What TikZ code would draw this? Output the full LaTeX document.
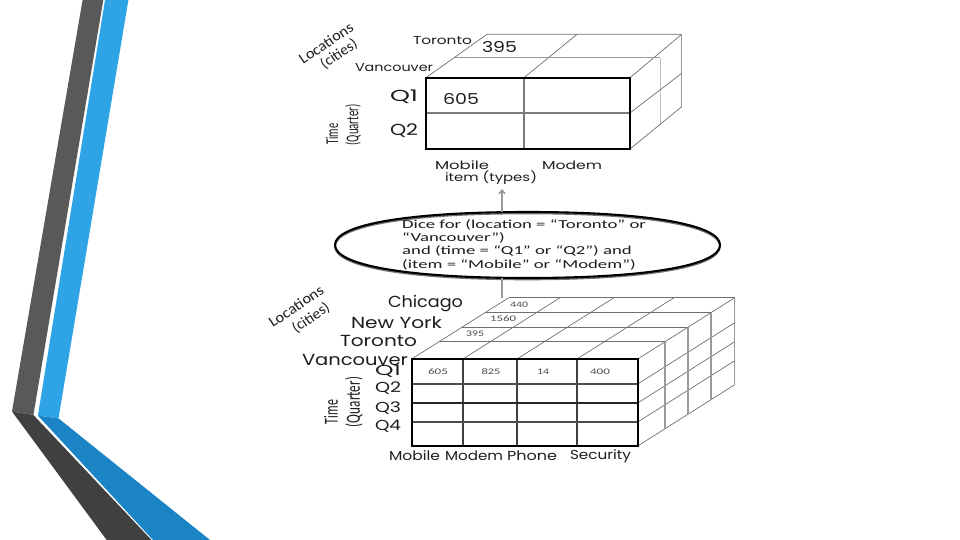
\documentclass[tikz,border=0pt]{standalone}
\usepackage{graphicx}
\usepackage{fontspec}
\setmainfont{Carlito}
\newfontfamily\geo{Poppins}
\usetikzlibrary{shapes.geometric,arrows.meta}
\newcommand\fitw[2]{\resizebox{#1}{\height}{#2}}
\newcommand\fullellipse[4]{% center x, center y, a, b
  (#1+#3,#2) .. controls (#1+#3,#2-0.62*#4) and (#1+0.62*#3,#2-#4) .. (#1,#2-#4)
  .. controls (#1-0.62*#3,#2-#4) and (#1-#3,#2-0.62*#4) .. (#1-#3,#2)
  .. controls (#1-#3,#2+0.62*#4) and (#1-0.62*#3,#2+#4) .. (#1,#2+#4)
  .. controls (#1+0.62*#3,#2+#4) and (#1+#3,#2+0.62*#4) .. (#1+#3,#2) -- cycle}
\definecolor{dkA}{HTML}{595959}
\definecolor{dkB}{HTML}{404040}
\definecolor{blA}{HTML}{2EA3E6}
\definecolor{blB}{HTML}{1A84C4}
\definecolor{gridg}{HTML}{7A7A7A}
\definecolor{diagg}{HTML}{707070}
\definecolor{sideg}{HTML}{9A9A9A}
\definecolor{paleg}{HTML}{B8C2CA}
\definecolor{txt}{HTML}{1E1E1E}
\begin{document}
\begin{tikzpicture}[x=1pt,y=-1pt,
  front/.style={line width=2pt,black},
  inner/.style={line width=1.1pt,gridg},
  edge/.style={line width=0.7pt,diagg},
  side/.style={line width=1.5pt,sideg},
  lab/.style={text=txt,inner sep=0pt},
  conn/.style={line width=1.6pt,sideg},
]
\useasboundingbox (0,0) rectangle (960,540);
\fill[white] (0,0) rectangle (960,540);

% ---------- left decoration ----------
\fill[dkA] (82.6,0) -- (103.3,0) -- (33.4,415) -- (12,411.5) -- cycle;
\fill[blA] (105,0) -- (128.4,0) -- (58.5,418.4) -- (37.9,415.6) -- cycle;
\fill[dkB] (12,411.5) -- (33.4,415) -- (151.5,540) -- (106.7,540) -- cycle;
\fill[blB] (37.9,415.6) -- (58.5,418.4) -- (210,540) -- (153,540) -- cycle;

% ---------- top cube ----------
\draw[edge] (426,77.7) -- (487,34.3) -- (681.7,34.3);
\draw[edge] (524,77.7) -- (577,34.3);
\draw[edge] (630,77.7) -- (681.7,34.3);
\draw[edge,sideg] (455,57.7) -- (660,57.7);
\draw[side,line width=1pt] (681.7,34.3) -- (681.7,106.7);
\draw[line width=1pt,paleg] (660,57.7) -- (660,125);
\draw[edge] (630,113) -- (681.7,73.3);
\draw[edge] (630,149) -- (681.7,106.7);
\draw[inner] (524,77.7) -- (524,149);
\draw[inner] (426,113) -- (630,113);
\draw[front] (426,77.7) rectangle (630,149);

% top cube labels
\node[lab,font=\geo\fontsize{11.5}{13}\selectfont] (tTor) at (442.5,40.7) {\fitw{59pt}{Toronto}};
\node[lab,font=\geo\fontsize{11.5}{13}\selectfont] (tVan) at (394,68) {\fitw{78pt}{Vancouver}};
\node[lab,font=\geo\fontsize{15}{17}\selectfont] (t395) at (499.5,47) {\fitw{35pt}{395}};
\node[lab,font=\geo\fontsize{15}{17}\selectfont] (t605) at (461,99) {\fitw{36pt}{605}};
\node[lab,font=\geo\fontsize{16}{18}\selectfont] (tQ1) at (404,97) {\fitw{28pt}{Q1}};
\node[lab,font=\geo\fontsize{16}{18}\selectfont] (tQ2) at (404,131) {\fitw{28pt}{Q2}};
\node[lab,font=\geo\fontsize{11.5}{13}\selectfont] (tMob) at (462,165) {\fitw{54pt}{Mobile}};
\node[lab,font=\geo\fontsize{11.5}{13}\selectfont] (tMod) at (572,165) {\fitw{60pt}{Modem}};
\node[lab,font=\geo\fontsize{11.5}{13}\selectfont] (tItem) at (491,178) {\fitw{92pt}{item (types)}};
\node[lab,font=\fontsize{15}{17}\selectfont,rotate=34] (tLoc) at (326,43) {\fitw{62pt}{Locations}};
\node[lab,font=\fontsize{15}{17}\selectfont,rotate=34] (tCit) at (339,54) {\fitw{41pt}{(cities)}};
\node[lab,font=\fontsize{18}{20}\selectfont,rotate=90] (tTime) at (332,134) {\fitw{21pt}{Time}};
\node[lab,font=\fontsize{18}{20}\selectfont,rotate=90] (tQua) at (353,125) {\fitw{41pt}{(Quarter)}};

% ---------- dice ellipse ----------
\coordinate (tc) at (502,189);
\node[ellipse,draw=none,minimum width=385pt,minimum height=66pt,inner sep=0pt] (dice) at (527.5,245) {};
\draw[line width=1.6pt,black!55] \fullellipse{527.5}{246.5}{192.5}{33};
\draw[line width=2.1pt,black] \fullellipse{527.5}{245}{192.5}{33};
\foreach \t/\y/\n in {{Dice for (location = “Toronto” or}/224.8/d1,{“Vancouver”)}/238/d2,{and (time = “Q1” or “Q2”) and}/251.2/d3,{(item = “Mobile” or “Modem”)}/264.4/d4}{
  \node[lab,anchor=west,font=\fontsize{12.2}{14}\selectfont] (\n) at (402,\y) {\scalebox{1.535}[1]{\t}};
}
\draw[conn,-{Straight Barb[length=3.5pt,width=6pt]}] (dice.north -| tc) -- (tc);
\coordinate (bctop) at (502,297.7);
\draw[conn] (dice.south -| tc) -- (bctop);

% ---------- bottom cube ----------
\foreach \y in {341.7,327.3,312.7,297.7}{
  \pgfmathsetmacro{\dx}{(359-\y)*1.582}
  \draw[edge] (411.7+\dx,\y) -- (637.7+\dx,\y);
}
\foreach \x in {411.7,463,517,577,637.7}{
  \draw[edge] (\x,359) -- (\x+97,297.7);
}
\foreach \r in {384,403,422,446}{
  \draw[edge] (637.7,\r) -- (734.7,\r-61.3);
}
\foreach \y in {341.7,327.3,312.7,297.7}{
  \pgfmathsetmacro{\dx}{(359-\y)*1.582}
  \draw[side] (637.7+\dx,\y) -- (637.7+\dx,\y+87);
}
\foreach \x in {463,517,577}{ \draw[inner,color=black!75] (\x,359) -- (\x,446); }
\foreach \y in {384,422}{ \draw[inner,color=black!70] (411.7,\y) -- (637.7,\y); }
\draw[line width=1.5pt,color=black!85] (411.7,403) -- (637.7,403);
\draw[front] (411.7,359) rectangle (637.7,446);

% bottom cube labels
\node[lab,font=\geo\fontsize{16}{18}\selectfont] (bChi) at (425.5,304) {\fitw{75pt}{Chicago}};
\node[lab,font=\geo\fontsize{16}{18}\selectfont] (bNY) at (396.5,323) {\fitw{91pt}{New York}};
\node[lab,font=\geo\fontsize{16}{18}\selectfont] (bTor) at (378.5,341) {\fitw{77pt}{Toronto}};
\node[lab,font=\geo\fontsize{16}{18}\selectfont] (bVan) at (355,360) {\fitw{106pt}{Vancouver}};
\foreach \q/\y in {1/371,2/388,3/408,4/426}{
  \node[lab,font=\geo\fontsize{14.5}{16}\selectfont] (bQ\q) at (388,\y) {\fitw{26pt}{Q\q}};
}
\node[lab,font=\fontsize{15}{17}\selectfont,rotate=34] (bLoc) at (296,306) {\fitw{63pt}{Locations}};
\node[lab,font=\fontsize{15}{17}\selectfont,rotate=34] (bCit) at (311,318) {\fitw{42pt}{(cities)}};
\node[lab,font=\fontsize{20}{22}\selectfont,rotate=90] (bTime) at (331,412) {\fitw{24pt}{Time}};
\node[lab,font=\fontsize{20}{22}\selectfont,rotate=90] (bQua) at (354,402) {\fitw{50pt}{(Quarter)}};
\node[lab,font=\geo\fontsize{13}{15}\selectfont] (bMob) at (414.5,456) {\fitw{51pt}{Mobile}};
\node[lab,font=\geo\fontsize{13}{15}\selectfont] (bMod) at (474,456) {\fitw{58pt}{Modem}};
\node[lab,font=\geo\fontsize{13}{15}\selectfont] (bPho) at (532,456) {\fitw{50pt}{Phone}};
\node[lab,font=\geo\fontsize{13}{15}\selectfont] (bSec) at (600.5,456) {\fitw{61pt}{Security}};
\foreach \t/\x/\y/\w/\n in {605/438/372/20/c1,825/491/372/19/c2,14/543/372/12/c3,400/600/372/20/c4,440/519/305/18/c5,1560/503/319/26/c6,395/475/334/18/c7}{
  \node[lab,font=\fontsize{8.5}{10}\selectfont,text=black!70] (\n) at (\x,\y) {\fitw{\w pt}{\t}};
}
\end{tikzpicture}
\end{document}
